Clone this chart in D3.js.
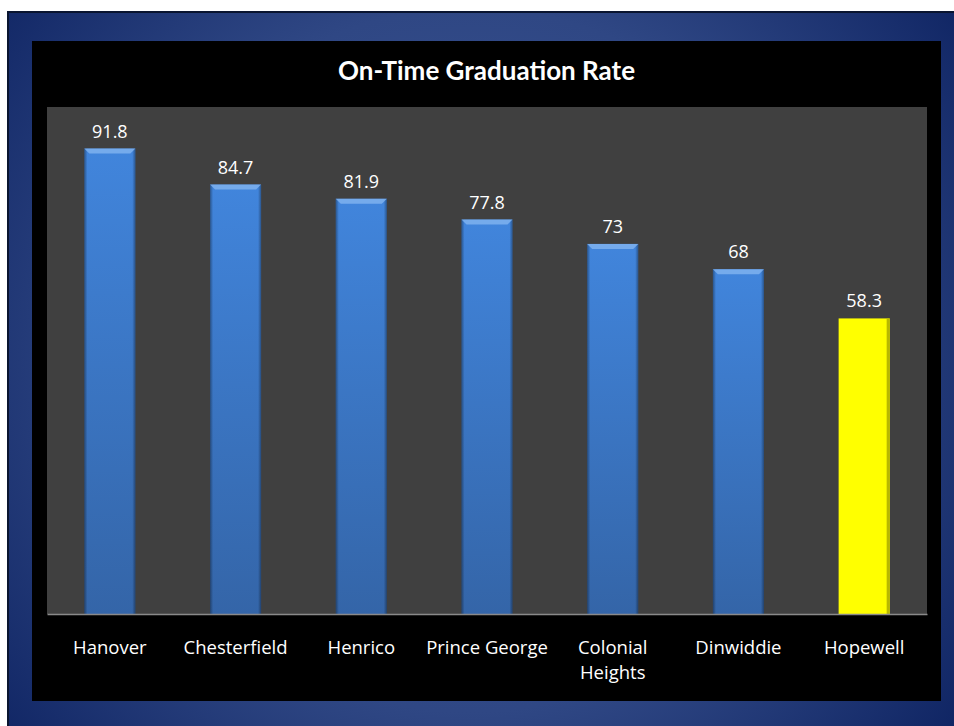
<!DOCTYPE html>
<html>
<head>
<meta charset="utf-8">
<script src="https://cdn.jsdelivr.net/npm/d3@7"></script>
<style>
  html, body { margin: 0; padding: 0; background: #fff; }
  svg { display: block; }
</style>
</head>
<body>
<div id="chart"></div>
<script>
// data
var districts = ["Hanover", "Chesterfield", "Henrico", "Prince George", "Colonial Heights", "Dinwiddie", "Hopewell"];
var rates = [91.8, 84.7, 81.9, 77.8, 73, 68, 58.3];
var highlight = ["Hopewell"];
var title = "On-Time Graduation Rate";

var width = 954, height = 726;
var box = {left: 32, top: 41, right: 941, bottom: 701};
var plot = {left: 47, top: 107, right: 927, bottom: 614};

var svg = d3.select("#chart").append("svg")
    .attr("width", width)
    .attr("height", height);

var defs = svg.append("defs");

var bg = defs.append("radialGradient")
    .attr("id", "bg")
    .attr("gradientUnits", "userSpaceOnUse")
    .attr("cx", 470).attr("cy", 360).attr("r", 640);
bg.append("stop").attr("offset", "0%").attr("stop-color", "#3d5898");
bg.append("stop").attr("offset", "55%").attr("stop-color", "#2f4784");
bg.append("stop").attr("offset", "100%").attr("stop-color", "#0c2160");

var barGrad = defs.append("linearGradient")
    .attr("id", "barGrad")
    .attr("x1", 0).attr("y1", 0).attr("x2", 0).attr("y2", 1);
barGrad.append("stop").attr("offset", "0%").attr("stop-color", "#4185dc");
barGrad.append("stop").attr("offset", "100%").attr("stop-color", "#3465a8");

var edgeGrad = defs.append("linearGradient")
    .attr("id", "edgeGrad")
    .attr("x1", 0).attr("y1", 0).attr("x2", 1).attr("y2", 0);
edgeGrad.append("stop").attr("offset", "0%").attr("stop-color", "#000").attr("stop-opacity", 0.35);
edgeGrad.append("stop").attr("offset", "6%").attr("stop-color", "#000").attr("stop-opacity", 0);
edgeGrad.append("stop").attr("offset", "94%").attr("stop-color", "#000").attr("stop-opacity", 0);
edgeGrad.append("stop").attr("offset", "100%").attr("stop-color", "#000").attr("stop-opacity", 0.35);

// slide background
svg.append("rect")
    .attr("x", 7).attr("y", 11)
    .attr("width", width - 7).attr("height", height - 11)
    .attr("fill", "#0a1530");
svg.append("rect")
    .attr("x", 9).attr("y", 13)
    .attr("width", width - 9).attr("height", height - 13)
    .attr("fill", "url(#bg)");

// black chart box
svg.append("rect")
    .attr("x", box.left).attr("y", box.top)
    .attr("width", box.right - box.left).attr("height", box.bottom - box.top)
    .attr("fill", "#000");

// plot area
svg.append("rect")
    .attr("x", plot.left).attr("y", plot.top)
    .attr("width", plot.right - plot.left).attr("height", plot.bottom - plot.top)
    .attr("fill", "#404040");

svg.append("text")
    .attr("x", (box.left + box.right) / 2)
    .attr("y", 80)
    .attr("text-anchor", "middle")
    .attr("fill", "#fff")
    .style("font-family", "Lato, 'Open Sans', sans-serif")
    .style("font-weight", "bold")
    .style("font-size", "26px")
    .text(title);

var x = d3.scaleBand().domain(districts).range([plot.left, plot.right]).paddingInner(0.594).paddingOuter(0.297);
var y = d3.scaleLinear().domain([0, 100]).range([plot.bottom, plot.top]);

var data = districts.map((d, i) => ({name: d, value: rates[i]}));

var bars = svg.selectAll(".bar")
    .data(data)
    .enter().append("g")
    .attr("class", "bar");

bars.append("rect")
    .attr("x", d => x(d.name))
    .attr("y", d => y(d.value))
    .attr("width", x.bandwidth())
    .attr("height", d => y(0) - y(d.value))
    .attr("fill", d => highlight.includes(d.name) ? "#ffff00" : "url(#barGrad)");

bars.append("rect")
    .attr("x", d => x(d.name))
    .attr("y", d => y(d.value))
    .attr("width", x.bandwidth())
    .attr("height", d => y(0) - y(d.value))
    .attr("fill", d => highlight.includes(d.name) ? "none" : "url(#edgeGrad)");

// yellow bar edge
bars.filter(d => highlight.includes(d.name)).append("rect")
    .attr("x", d => x(d.name) + x.bandwidth() - 3)
    .attr("y", d => y(d.value))
    .attr("width", 3)
    .attr("height", d => y(0) - y(d.value))
    .attr("fill", "#b8b800");

// top bevel
bars.append("path")
    .attr("d", d => {
        var x0 = x(d.name), x1 = x0 + x.bandwidth(), t = y(d.value), b = 5;
        return `M${x0},${t}L${x1},${t}L${x1 - b},${t + b}L${x0 + b},${t + b}Z`;
    })
    .attr("fill", d => highlight.includes(d.name) ? "#ffff60" : "#7fb2ee")
    .attr("opacity", d => highlight.includes(d.name) ? 0 : 0.85);

bars.append("text")
    .attr("x", d => x(d.name) + x.bandwidth() / 2)
    .attr("y", d => y(d.value) - 11)
    .attr("text-anchor", "middle")
    .attr("fill", "#fff")
    .style("font-family", "'Open Sans', sans-serif")
    .style("font-size", "18px")
    .text(d => d.value);

// x axis
var xAxis = d3.axisBottom(x).tickSize(0).tickSizeOuter(0);
var gx = svg.append("g")
    .attr("transform", `translate(0,${plot.bottom})`)
    .call(xAxis);
gx.select(".domain").attr("stroke", "#8a8a8a").attr("stroke-width", 1.5);
gx.selectAll(".tick text")
    .attr("fill", "#fff")
    .attr("y", 40)
    .attr("dy", 0)
    .style("font-family", "'Open Sans', sans-serif")
    .style("font-size", "18.5px")
    .each(function(d) {
        var t = d3.select(this);
        var words = d.split(" ");
        if (d === "Colonial Heights") {
            t.text(null);
            words.forEach((w, i) => {
                t.append("tspan").attr("x", 0).attr("dy", i ? 25 : 0).text(w);
            });
        }
    });
</script>
</body>
</html>
